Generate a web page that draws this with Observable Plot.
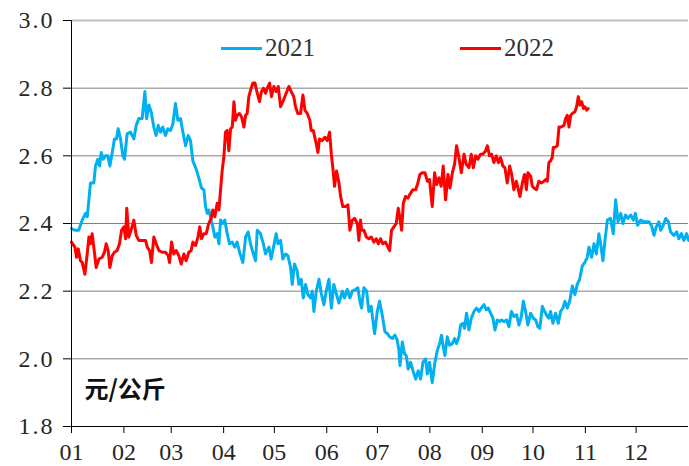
<!DOCTYPE html>
<html>
<head>
<meta charset="utf-8">
<script src="https://cdn.jsdelivr.net/npm/d3@7"></script>
<script src="https://cdn.jsdelivr.net/npm/@observablehq/plot@0.6"></script>
<style>
  html, body { margin: 0; padding: 0; background: #fff; }
  #wrap { position: relative; width: 689px; height: 466px; }
  .leg { position: absolute; top: 33px; height: 30px; display: flex; align-items: center;
         font-family: "Liberation Serif", "DejaVu Serif", "Noto Serif", "FreeSerif", "Tinos", "Times", serif; font-size: 25px; color: #333; }
  .sw { display: inline-block; width: 41px; height: 3px; margin-right: 3px; }
</style>
</head>
<body>
<div id="wrap"></div>
<script>
// ---- data (day offset from 1 Jan, price in 元/公斤) ----
const seriesNames = ["2021", "2022"];
const unitLabel = "元/公斤";
const monthLabels = ["01","02","03","04","05","06","07","08","09","10","11","12"];
const yTicks = [1.8, 2.0, 2.2, 2.4, 2.6, 2.8, 3.0];

const days2021 = [0,2,4.3,6.3,8.3,9.3,10.3,11.2,13.2,14.2,15.6,16.6,17.6,18.8,20.1,21.5,22.7,24.1,25.4,26.6,27.6,29,30.4,31.4,32.9,34.9,36.9,38.3,39.8,41.8,43.4,44.4,45.8,47.1,48.7,50.1,51.3,52.7,54,55.6,57,58.6,60,61.5,62.9,64.5,65.9,67.5,69,70.4,71.8,73.8,75.3,76.9,78.3,79.3,80.3,81.2,82.2,83.6,84.8,86.2,87.2,88.2,89.5,90.7,92.1,93.5,95.1,96.6,98,99.4,101.4,103,104.5,105.9,107.3,108.9,109.9,111.8,113.5,114.8,116.8,118.1,119.7,121.1,122.1,123.7,125,126.6,128,129.6,130.6,131.9,133.5,134.5,135.9,137.1,138.5,139.8,141.4,142.4,143.4,144.8,146.4,147.7,149.3,150.7,152.3,153.7,155.2,156.8,158.2,160.2,161.5,163.1,164.7,166.1,168,169.4,170.6,171.6,173,174.6,175.9,177.3,177.9,179.3,180.9,182.2,183.8,185.4,186.8,188.2,189.8,191.3,192.7,193.7,194.3,195.7,197,198,199.2,200.6,202,203.6,205.1,206.5,207.9,209.5,210.5,211.8,213.4,215,216.4,217.8,218.9,219.9,220.9,222.3,223.7,225.3,226.6,227.8,229.2,230.2,231.6,232.5,233.7,235.1,236.5,238.1,239.6,241,242.4,244,245.4,246.6,247.9,249.3,250.5,251.9,253.3,254.4,255.8,257.4,258.8,260.2,261.7,263.3,264.7,266.1,267.3,268.6,270,271.6,273.2,274.6,275.9,277.1,278.5,279.9,281.5,282.4,283.4,284.8,286.4,288,289.3,290.7,291.9,293.3,294.7,296.3,297.8,299.2,300.6,302.2,303.7,305.1,306.1,307.7,309.1,310.5,312,313,314.4,315.6,317,318.9,320.5,321.9,323.3,324.9,326.2,327.8,329.2,330.8,332.4,333.6,334.9,336.7,338.6,341.6,343,344.6,345.9,347.5,348.5,350.1,351.5,353.1,354.4,356.4,358,359.3,360.8,362.3,363.9,365];
const values2021 = [2.385,2.38,2.38,2.41,2.43,2.42,2.47,2.52,2.52,2.57,2.59,2.57,2.61,2.59,2.60,2.60,2.57,2.61,2.65,2.65,2.68,2.65,2.60,2.59,2.665,2.67,2.65,2.69,2.71,2.71,2.79,2.71,2.75,2.73,2.685,2.66,2.69,2.67,2.685,2.66,2.68,2.675,2.695,2.755,2.705,2.71,2.67,2.63,2.66,2.645,2.585,2.56,2.535,2.505,2.50,2.45,2.43,2.44,2.42,2.39,2.36,2.37,2.34,2.41,2.40,2.41,2.37,2.34,2.345,2.33,2.345,2.315,2.285,2.36,2.375,2.34,2.315,2.29,2.38,2.37,2.34,2.31,2.33,2.295,2.335,2.37,2.34,2.35,2.295,2.31,2.305,2.27,2.22,2.28,2.26,2.22,2.235,2.18,2.22,2.19,2.18,2.20,2.14,2.20,2.235,2.195,2.16,2.20,2.235,2.15,2.22,2.19,2.165,2.20,2.18,2.205,2.18,2.20,2.205,2.21,2.17,2.15,2.21,2.20,2.14,2.155,2.13,2.075,2.14,2.17,2.13,2.08,2.075,2.065,2.06,2.07,2.055,2.025,1.98,2.05,2.015,2.01,1.97,1.99,1.965,1.94,1.965,1.94,1.99,2.0,1.955,1.99,1.93,1.99,2.025,2.045,2.07,2.035,2.01,2.065,2.04,2.045,2.06,2.045,2.065,2.10,2.105,2.09,2.135,2.085,2.12,2.14,2.15,2.14,2.15,2.16,2.145,2.15,2.135,2.12,2.085,2.115,2.11,2.115,2.11,2.115,2.095,2.14,2.125,2.13,2.10,2.125,2.17,2.14,2.10,2.135,2.12,2.115,2.095,2.09,2.155,2.14,2.125,2.12,2.14,2.105,2.135,2.105,2.14,2.15,2.17,2.15,2.17,2.215,2.19,2.22,2.235,2.275,2.285,2.30,2.33,2.30,2.34,2.31,2.37,2.34,2.29,2.35,2.41,2.415,2.37,2.47,2.405,2.43,2.40,2.425,2.415,2.425,2.41,2.43,2.395,2.41,2.405,2.405,2.395,2.365,2.39,2.405,2.38,2.395,2.415,2.405,2.375,2.365,2.375,2.355,2.37,2.35,2.37,2.35];

const days2022 = [0,2,3,4,5.3,6.3,7.9,9.3,10.3,11.2,12.2,13.2,14.6,16.2,18.1,19.5,20.5,21.7,22.7,24.1,25.4,27,28.4,29.6,31,32,32.7,33.9,35.5,36.9,38.3,39.8,41.8,43.8,44.8,46.2,47.3,48.7,50.1,51.7,53.7,55.6,57.2,58,59.2,60.5,61.9,63.5,64.9,66.5,67.8,69.4,70.8,71.8,73.4,74.8,75.9,76.9,78.3,79.7,81.2,82.6,83.6,84.8,86.2,87.2,88.2,89.1,90.1,91.1,92.1,93.1,94.1,95.1,96.1,97,98,99.4,100.6,102,103,103.9,104.9,106.3,107.3,108.5,109.9,111.2,112.4,113.6,114.8,115.8,117.2,118.3,119.7,121.1,122.3,123.7,125,126.6,128.6,130,131.5,132.5,133.9,135.5,136.9,138.1,139.5,141,141.8,143,144.4,145.8,146.7,148.3,149.9,151.3,152.7,153.7,154.8,155.6,156.8,158.2,159.2,160.5,162.1,163.5,164.7,166.1,167.5,169.1,170,171,171.6,173,174.4,175.9,177.3,178.9,180.3,181.5,182.8,184.2,185.8,187.2,188.2,189.3,190.7,192.1,193.3,194.3,195.3,196.3,197.6,199,200.6,202,203.6,204.9,206.1,207.5,209.1,210.5,211.8,213.4,214.8,216,217.4,218.7,219.9,221.3,222.7,223.9,225.3,226.6,227.8,229.2,230.6,232.2,233.5,235.1,236.5,237.7,239.1,240.4,242,243.4,245,246,247.3,248.5,249.9,251.3,252.5,253.8,255.2,256.4,257.8,259.2,260.4,261.7,263.1,264.3,265.3,266.7,268,269.1,270,271.6,272.6,273.6,275.1,276.5,277.9,279.5,280.5,281.5,282.4,283.4,284.4,285,286,287.4,288.4,289.7,291.3,292.3,293.3,294.3,295.3,296.3,297.8,298.8,299.8,300.8,301.8,302.8,303.7,304.7,305.7];
const values2022 = [2.345,2.33,2.30,2.325,2.29,2.285,2.25,2.31,2.36,2.34,2.37,2.33,2.27,2.295,2.30,2.315,2.34,2.32,2.27,2.305,2.315,2.32,2.34,2.38,2.39,2.355,2.445,2.36,2.385,2.41,2.365,2.35,2.35,2.35,2.33,2.32,2.285,2.36,2.34,2.32,2.315,2.315,2.305,2.285,2.345,2.31,2.32,2.305,2.28,2.31,2.29,2.315,2.32,2.345,2.335,2.36,2.39,2.355,2.37,2.37,2.40,2.415,2.44,2.42,2.46,2.44,2.50,2.555,2.595,2.67,2.675,2.615,2.68,2.685,2.76,2.705,2.72,2.725,2.715,2.685,2.72,2.725,2.775,2.80,2.815,2.815,2.785,2.76,2.79,2.80,2.785,2.80,2.815,2.775,2.805,2.79,2.805,2.745,2.76,2.78,2.805,2.79,2.775,2.745,2.725,2.725,2.78,2.735,2.725,2.705,2.675,2.675,2.645,2.61,2.65,2.645,2.655,2.645,2.67,2.605,2.555,2.51,2.555,2.52,2.48,2.45,2.45,2.455,2.38,2.41,2.415,2.40,2.35,2.41,2.38,2.38,2.36,2.355,2.36,2.345,2.355,2.34,2.355,2.34,2.345,2.33,2.32,2.38,2.39,2.40,2.445,2.415,2.38,2.46,2.48,2.475,2.49,2.50,2.50,2.52,2.545,2.55,2.55,2.525,2.53,2.45,2.55,2.515,2.535,2.51,2.57,2.47,2.545,2.505,2.55,2.575,2.63,2.595,2.55,2.605,2.575,2.565,2.605,2.565,2.60,2.59,2.605,2.605,2.615,2.63,2.60,2.605,2.58,2.60,2.58,2.595,2.57,2.565,2.52,2.57,2.545,2.50,2.525,2.50,2.48,2.52,2.545,2.50,2.55,2.54,2.51,2.505,2.50,2.525,2.52,2.525,2.53,2.525,2.58,2.585,2.595,2.625,2.625,2.63,2.685,2.685,2.69,2.71,2.72,2.685,2.72,2.725,2.73,2.745,2.775,2.75,2.76,2.74,2.745,2.735,2.74];

// ---- presentation ----
const serif = '"Liberation Serif", "DejaVu Serif", "Noto Serif", "FreeSerif", "Tinos", "Times", serif';
const colors = { "2021": "#00B0F0", "2022": "#FF0000" };
const start = new Date(Date.UTC(2021, 0, 1));
const end = new Date(Date.UTC(2022, 0, 1));
const toDate = d => new Date(start.getTime() + d * 864e5);
const rows = (days, vals, s) => days.map((d, i) => ({ date: toDate(d), value: vals[i], series: s }));
const data = [...rows(days2021, values2021, "2021"), ...rows(days2022, values2022, "2022")];
const monthStarts = d3.utcMonths(start, end);

const chart = Plot.plot({
  width: 689, height: 466,
  marginLeft: 71, marginRight: 1, marginTop: 20, marginBottom: 40,
  style: { fontFamily: serif, fontSize: "24px", color: "#262626", background: "#fff", overflow: "visible" },
  x: { type: "utc", domain: [start, end], label: null },
  y: { domain: [1.8, 3.0], label: null },
  marks: [
    Plot.ruleY(yTicks.filter(v => v > 1.8 && v < 3.0), { stroke: "#808080", strokeWidth: 1 }),
    Plot.ruleY([3.0], { stroke: "#c0c0c0", strokeWidth: 2 }),
    Plot.line(data, { x: "date", y: "value", z: "series", stroke: d => colors[d.series], strokeWidth: 3, curve: "linear" }),
    Plot.ruleY([1.8], { stroke: "#000", strokeWidth: 1 }),
    Plot.ruleX([start], { stroke: "#000", strokeWidth: 1 }),
    Plot.axisX({ ticks: monthStarts, tickFormat: d => monthLabels[d.getUTCMonth()], tickSize: 7, tickPadding: 9, stroke: "#000", fontSize: 24, fontFamily: serif }),
    Plot.axisY({ ticks: yTicks, tickFormat: d3.format(".1f"), tickSize: 8, tickPadding: 9, stroke: "#000", fontSize: 24, fontFamily: serif }),
    Plot.text([unitLabel], { frameAnchor: "bottom-left", dx: 13, dy: -29, textAnchor: "start",
      fontFamily: '"Noto Sans CJK SC", sans-serif', fontSize: 24, fontWeight: "bold", fill: "#111" })
  ]
});

// y tick labels: emulate the wider spacing of the original digits
chart.querySelectorAll('[aria-label="y-axis tick label"] text').forEach(t => t.setAttribute("letter-spacing", "2"));

const wrap = document.getElementById("wrap");
wrap.appendChild(chart);

// legend
const legPos = { "2021": 221, "2022": 460 };
seriesNames.forEach(s => {
  const el = document.createElement("div");
  el.className = "leg";
  el.style.left = legPos[s] + "px";
  el.innerHTML = `<span class="sw" style="background:${colors[s]}"></span><span>${s}</span>`;
  wrap.appendChild(el);
});
</script>
</body>
</html>
